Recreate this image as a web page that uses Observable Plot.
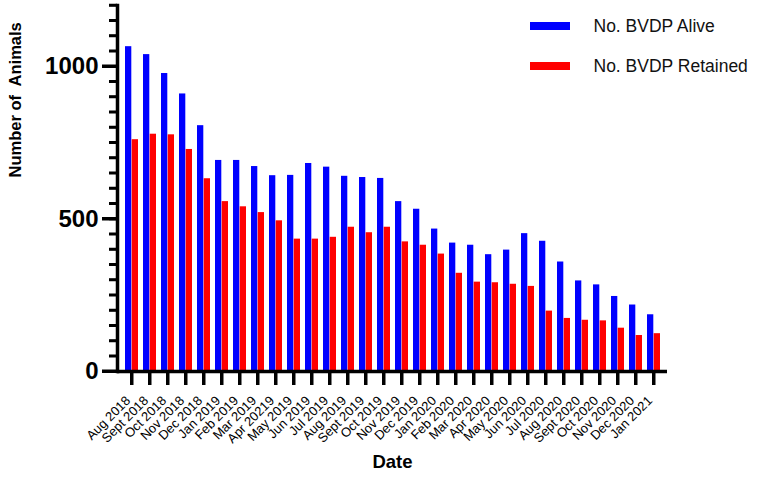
<!DOCTYPE html>
<html>
<head>
<meta charset="utf-8">
<script src="https://cdn.jsdelivr.net/npm/d3@7"></script>
<script src="https://cdn.jsdelivr.net/npm/@observablehq/plot@0.6"></script>
<style>
  html, body { margin: 0; padding: 0; background: #fff; }
</style>
</head>
<body>
<div id="wrap"></div>
<script>
const months = ["Aug 2018","Sept 2018","Oct 2018","Nov 2018","Dec 2018","Jan 2019","Feb 2019","Mar 2019","Apr 20219","May 2019","Jun 2019","Jul 2019","Aug 2019","Sept 2019","Oct 2019","Nov 2019","Dec 2019","Jan 2020","Feb 2020","Mar 2020","Apr 2020","May 2020","Jun 2020","Jul 2020","Aug 2020","Sept 2020","Oct 2020","Nov 2020","Dec 2020","Jan 2021"];
const alive = [1065,1039,977,910,806,692,692,672,642,643,682,670,640,636,633,557,532,467,421,414,383,398,452,427,359,297,284,246,218,186];
const retained = [760,778,776,728,632,557,540,521,494,434,434,440,473,455,473,425,414,385,322,293,291,286,279,198,174,168,166,142,118,124];
const seriesNames = ["No. BVDP Alive","No. BVDP Retained"];
const seriesColors = ["#0000ff","#ff0000"];
const yMajor = [0,500,1000];
const yMinor = d3.range(0,1201,50);

const dataAlive = months.map((m,i)=>({month:m, value:alive[i]}));
const dataRet = months.map((m,i)=>({month:m, value:retained[i]}));

const font = "Liberation Sans, Arial, sans-serif";
const W = 767, H = 484, ML = 117, MR = 100, MT = 5, MB = 113;
const frameW = W - ML - MR, frameH = H - MT - MB;
const padIn = 0.29, padOut = 0.15;

const legendMarks = seriesNames.flatMap((name, i) => [
  Plot.rect([name], {insetLeft: 413, insetRight: 97, insetTop: 17 + 40 * i, insetBottom: frameH - 25 - 40 * i, fill: seriesColors[i]}),
  Plot.text([name], {frameAnchor: "top-left", dx: 476, dy: 21 + 40 * i, textAnchor: "start", lineAnchor: "middle", fontSize: 17.5, fill: "#111"})
]);

const chart = Plot.plot({
  width: W,
  height: H,
  marginLeft: ML,
  marginRight: MR,
  marginTop: MT,
  marginBottom: MB,
  style: {fontFamily: font, background: "#fff"},
  x: {domain: months, paddingInner: padIn, paddingOuter: padOut, axis: null},
  y: {domain: [0,1200], axis: null},
  marks: [
    Plot.barY(dataAlive, {x:"month", y:"value", fill: seriesColors[0], insetRight: 6.7}),
    Plot.barY(dataRet, {x:"month", y:"value", fill: seriesColors[1], insetLeft: 6.7}),
    Plot.text(yMajor, {y: d => d, text: d => String(d), frameAnchor: "left", dx: -19, textAnchor: "end", fontSize: 24, fontWeight: "bold", fill: "#000"}),
    Plot.text(months, {x: d => d, text: d => d, frameAnchor: "bottom", dy: 30, dx: -1, rotate: -45, textAnchor: "end", fontSize: 13, fill: "#000"}),
    Plot.text(["Date"], {frameAnchor: "bottom", dy: 96, fontSize: 18.5, fontWeight: "bold", fill: "#000"}),
    Plot.text(["Number of  Animals"], {frameAnchor: "left", dx: -102, dy: -11, rotate: -90, fontSize: 16.5, fontWeight: "bold", fill: "#000"}),
    ...legendMarks,
    Plot.ruleY([0], {strokeWidth: 3.5, stroke: "#000"}),
    Plot.frame({anchor: "left", strokeWidth: 3.5, stroke: "#000"}),
    Plot.ruleY(yMinor, {y: d => d, insetLeft: -8, insetRight: frameW, stroke: "#000", strokeWidth: 2.5}),
    Plot.ruleY(yMajor, {y: d => d, insetLeft: -15, insetRight: frameW, stroke: "#000", strokeWidth: 3}),
    Plot.ruleX(months, {x: d => d, insetTop: frameH, insetBottom: -14, stroke: "#000", strokeWidth: 3})
  ]
});
document.getElementById("wrap").appendChild(chart);

// Tick marks also drawn with the chart's own scales as filled paths
const ys = chart.scale("y"), xs = chart.scale("x");
const yPix = v => ys.apply(v);
const xPix = m => xs.apply(m) + xs.bandwidth / 2;
const svg = d3.select(chart);
const g = svg.append("g").attr("fill", "#000");
yMinor.forEach(v => {
  const isMajor = yMajor.includes(v);
  const len = isMajor ? 15 : 8, th = isMajor ? 3 : 2.5;
  g.append("rect").attr("x", ML - len).attr("y", yPix(v) - th / 2).attr("width", len).attr("height", th);
});
months.forEach(m => {
  g.append("rect").attr("x", xPix(m) - 1.5).attr("y", H - MB).attr("width", 3).attr("height", 14);
});
</script>
</body>
</html>
